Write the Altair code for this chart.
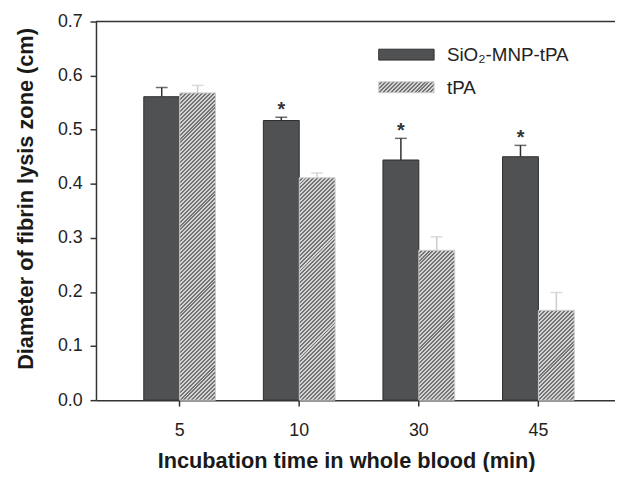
import altair as alt
import pandas as pd

# ---- data ----
times = ["5", "10", "30", "45"]
groups = ["SiO2-MNP-tPA", "tPA"]
sio2_vals = [0.561, 0.517, 0.444, 0.450]
sio2_err = [0.017, 0.006, 0.040, 0.021]
tpa_vals = [0.568, 0.411, 0.277, 0.166]
tpa_err = [0.014, 0.009, 0.025, 0.033]
stars = ["", "*", "*", "*"]
legend_labels = ["SiO\u2082-MNP-tPA", "tPA"]
y_ticks = [0.0, 0.1, 0.2, 0.3, 0.4, 0.5, 0.6, 0.7]

W, H = 525, 383
YMAX = 0.7
FONT = "Liberation Sans"
DARK = "#505153"
DARK_STROKE = "#2e2e2e"
LIGHT_STROKE = "#cccccc"

rows = []
for i, t in enumerate(times):
    rows.append(dict(time=t, group=groups[0], value=sio2_vals[i],
                     top=sio2_vals[i] + sio2_err[i], star=stars[i]))
    rows.append(dict(time=t, group=groups[1], value=tpa_vals[i],
                     top=tpa_vals[i] + tpa_err[i], star=""))
df = pd.DataFrame(rows)


def hatch(w, h, period=4.0, light="#d4d4d4", dark="#747474", frac=0.5):
    """linear gradient with hard stops giving '////' stripes on a w x h box"""
    s = w + h
    k = s / (w * w + h * h)
    n = s / period
    stops = []
    i = 0
    while i < n:
        o1 = min(i / n, 1.0)
        o2 = min((i + frac) / n, 1.0)
        o3 = min((i + 1) / n, 1.0)
        stops += [{"offset": o1, "color": light}, {"offset": o2, "color": light},
                  {"offset": o2, "color": dark}, {"offset": o3, "color": dark}]
        i += 1
    return alt.LinearGradient(gradient="linear", x1=0, y1=0, x2=w * k, y2=h * k,
                              stops=stops)


x_enc = alt.X("time:N", sort=times,
              scale=alt.Scale(paddingInner=0.4, paddingOuter=0.37, align=0.54),
              axis=alt.Axis(title="Incubation time in whole blood (min)", labelAngle=0,
                            titleX=253, titleY=68, titleAlign="center",
                            titleBaseline="alphabetic", labelBaseline="alphabetic",
                            labelPadding=30))
xo_enc = alt.XOffset("group:N", scale=alt.Scale(domain=groups, paddingInner=0, paddingOuter=0))
y_enc = alt.Y("value:Q", scale=alt.Scale(domain=[0, YMAX], nice=False, zero=True),
              axis=alt.Axis(title="Diameter of fibrin lysis zone (cm)", values=y_ticks,
                            format=".1f", titleX=-71, titleY=179, titleAngle=270,
                            titleAlign="center", titleBaseline="middle", labelPadding=8))

step = W / (len(times) - 0.4 + 2 * 0.37)
bar_w = step * 0.6 / 2

sio2_bars = alt.Chart(df[df.group == groups[0]]).mark_bar(
    fill=DARK, stroke=DARK_STROKE, strokeWidth=1
).encode(x=x_enc, xOffset=xo_enc, y=y_enc)

layers = [sio2_bars]
for i, t in enumerate(times):
    sub = df[(df.group == groups[1]) & (df.time == t)]
    bh = tpa_vals[i] / YMAX * H
    layers.append(alt.Chart(sub).mark_bar(
        fill=hatch(bar_w, bh), stroke=LIGHT_STROKE, strokeWidth=1
    ).encode(x=x_enc, xOffset=xo_enc, y=y_enc))

err_color = alt.Color("group:N", scale=alt.Scale(domain=groups, range=[DARK_STROKE, LIGHT_STROKE]),
                      legend=None)
err_rule = alt.Chart(df).mark_rule(strokeWidth=1.5).encode(
    x=x_enc, xOffset=xo_enc, y=alt.Y("value:Q"), y2="top:Q", color=err_color)
err_cap = alt.Chart(df).mark_tick(size=12, thickness=1.5).encode(
    x=x_enc, xOffset=xo_enc, y=alt.Y("top:Q"), color=err_color)
star_txt = alt.Chart(df).mark_text(font=FONT, fontSize=20, fontWeight="bold", dy=-1,
                                   baseline="alphabetic", color="#333").encode(
    x=x_enc, xOffset=xo_enc, y=alt.Y("top:Q"), text="star:N")

frame = pd.DataFrame({"a": [0]})
top_line = alt.Chart(frame).mark_rule(color="#333", strokeWidth=1.5).encode(
    x=alt.value(0), x2=alt.value(W), y=alt.value(0))

leg = []
sw_x, sw_x2 = 286, 342
for j, (lab, yy) in enumerate(zip(legend_labels, [28, 61])):
    if j == 0:
        fill, stroke = DARK, DARK_STROKE
    else:
        fill, stroke = hatch(sw_x2 - sw_x, 11), LIGHT_STROKE
    leg.append(alt.Chart(frame).mark_rect(fill=fill, stroke=stroke, strokeWidth=1).encode(
        x=alt.value(sw_x), x2=alt.value(sw_x2), y=alt.value(yy), y2=alt.value(yy + 11)))
    leg.append(alt.Chart(frame).mark_text(font=FONT, fontSize=19, align="left",
                                          baseline="middle", color="#222", text=lab).encode(
        x=alt.value(355), y=alt.value(yy + 6)))

chart = alt.layer(*layers, err_rule, err_cap, star_txt, top_line, *leg).properties(
    width=W, height=H,
    autosize=alt.AutoSizeParams(type="none"),
    padding={"left": 89, "top": 11, "right": 0, "bottom": 70},
).configure_view(stroke=None).configure_axis(
    grid=False, domainColor="#333", domainWidth=1.5, tickColor="#333", tickWidth=1.5,
    tickSize=6, labelFont=FONT, labelFontSize=18, labelColor="#222",
    titleFont=FONT, titleFontSize=22, titleFontWeight="bold", titleColor="#1a1a1a"
)

chart.save("out.html", embed_options={"renderer": "svg", "actions": False})
